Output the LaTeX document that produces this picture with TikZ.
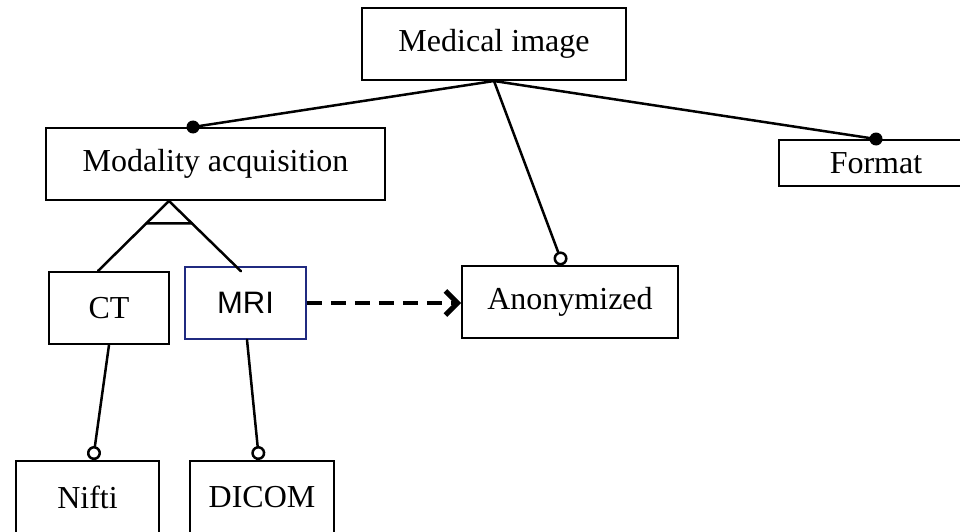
\documentclass[tikz,border=0pt]{standalone}
\usepackage{fontspec}
\setmainfont{Liberation Serif}
\newfontfamily\arialfont{Liberation Sans}
\usetikzlibrary{arrows.meta,calc}
\definecolor{navyedge}{RGB}{32,42,128}
\tikzset{
  featbox/.style={draw=black, line width=2pt, fill=white, inner sep=0pt,
    font=\fontsize{32}{38}\selectfont},
  link/.style={line width=2.5pt, line cap=round},
  mandatory/.style={circle, fill=black, inner sep=0pt, minimum size=13pt},
  optional/.style={-{Circle[open, fill=white, length=14pt, width=14pt, line width=2.5pt]}}
}
\begin{document}
\begin{tikzpicture}[x=1pt, y=-1pt]
  \useasboundingbox (0,0) rectangle (960,532);
  \clip (0,0) rectangle (960,532);

  % feature boxes
  \node[featbox, minimum width=264pt, minimum height=72pt] (med)   at (494,44)    {Medical image};
  \node[featbox, minimum width=339pt, minimum height=72pt] (mod)   at (215.5,164) {Modality acquisition};
  \node[featbox, minimum width=194pt, minimum height=46pt] (fmt)   at (876,163)   {Format};
  \node[featbox, minimum width=120pt, minimum height=72pt] (ct)    at (109,308)   {CT};
  \node[featbox, draw=navyedge, line width=1.5pt, minimum width=121pt, minimum height=72pt,
        font=\arialfont\fontsize{31}{36}\selectfont] (mri) at (245.5,303) {MRI};
  \node[featbox, minimum width=216pt, minimum height=72pt] (anon)  at (570,302)   {Anonymized};
  \node[featbox, minimum width=143pt, minimum height=72pt] (nifti) at (87.5,497)  {Nifti};
  \node[featbox, minimum width=144pt, minimum height=72pt] (dicom) at (262,497)   {DICOM};

  % attachment points (y grows downwards here, so yshift is negated)
  \coordinate (modtop) at ([xshift=-22.5pt]mod.north);
  \coordinate (fmttop) at (fmt.north);
  \coordinate (anontop) at ([xshift=-7pt]anon.north);
  \coordinate (apex) at ([xshift=-46.5pt]mod.south);
  \coordinate (ctleg) at ([xshift=-11pt]ct.north);
  \coordinate (mrileg) at ([xshift=-4.5pt,yshift=-5pt]mri.north);
  \coordinate (ctfoot) at (ct.south);
  \coordinate (mrifoot) at ([xshift=1.5pt]mri.south);
  \coordinate (niftitop) at ([xshift=5.5pt]nifti.north);
  \coordinate (dicomtop) at ([xshift=-3pt]dicom.north);

  % mandatory sub-features
  \draw[link] (med.south) -- (modtop);
  \draw[link] (med.south) -- (fmttop);
  \node[mandatory] (dotmod) at (modtop) {};
  \node[mandatory] (dotfmt) at (fmttop) {};

  % optional sub-features
  \draw[link, optional] (med.south) -- (anontop);
  \draw[link, optional] (ctfoot) -- (niftitop);
  \draw[link, optional] (mrifoot) -- (dicomtop);

  % alternative group
  \draw[link] (ctleg) -- (apex) -- (mrileg);
  \draw[link] ($(apex)!0.32!(ctleg)$) -- ($(apex)!0.32!(mrileg)$);

  % requires
  \draw[line width=4pt, dash pattern=on 15pt off 9pt,
        -{Straight Barb[length=12pt, width=24pt, line width=5pt]}]
        (mri.east) -- (mri.east -| anon.west);
\end{tikzpicture}
\end{document}
